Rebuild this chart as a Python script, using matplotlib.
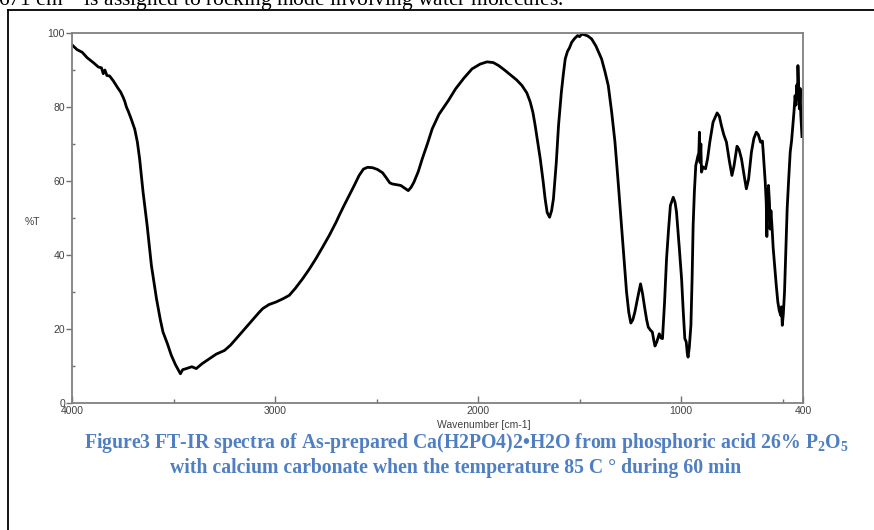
import matplotlib.pyplot as plt
from matplotlib.lines import Line2D
from matplotlib.ticker import FixedLocator

# FT-IR spectrum (wavenumber in cm-1, transmittance in %T)
wavenumber = [
    4000, 3975, 3950, 3925, 3895, 3870, 3855, 3846, 3838, 3828, 3815, 3797,
    3775, 3760, 3748, 3740, 3732, 3724, 3710, 3691, 3678, 3667, 3650, 3630,
    3609, 3584, 3565, 3552, 3530, 3511, 3490, 3466, 3455, 3437, 3410, 3388,
    3360, 3322, 3290, 3249, 3220, 3191, 3142, 3110, 3080, 3061, 3030, 2995,
    2960, 2930, 2900, 2864, 2830, 2799, 2765, 2733, 2700, 2684, 2660, 2635,
    2610, 2586, 2565, 2545, 2520, 2495, 2470, 2454, 2435, 2422, 2400, 2381,
    2360, 2344, 2330, 2316, 2295, 2275, 2250, 2226, 2193, 2147, 2111, 2070,
    2030, 1990, 1956, 1925, 1899, 1870, 1841, 1810, 1784, 1760, 1743, 1730,
    1719, 1705, 1694, 1680, 1670, 1660, 1648, 1638, 1629, 1615, 1604, 1590,
    1580, 1571, 1560, 1550, 1539, 1525, 1510, 1500, 1490, 1475, 1460, 1441,
    1420, 1392, 1375, 1359, 1342, 1326, 1310, 1294, 1280, 1269, 1258, 1248,
    1238, 1228, 1214, 1200, 1190, 1179, 1170, 1162, 1150, 1142, 1135, 1129,
    1120, 1108, 1100, 1092, 1082, 1072, 1062, 1053, 1039, 1030, 1023, 1010,
    998, 990, 982, 975, 970, 966, 960, 952, 946, 941, 935, 928,
    917, 913, 910, 907, 903, 900, 892, 880, 870, 859, 843, 823,
    812, 802, 790, 777, 763, 750, 740, 725, 715, 703, 690, 679,
    668, 654, 642, 630, 620, 609, 600, 597, 590, 586, 581, 578,
    576, 570, 565, 562, 558, 553, 547, 540, 532, 524, 517, 510,
    506, 502, 497, 491, 485, 478, 470, 463, 456, 450, 444, 439,
    435, 430, 427, 425, 421, 418, 414, 411, 408, 405,
]
transmittance = [
    96.8, 95.5, 94.8, 93.3, 92.0, 90.8, 90.6, 89.0, 90.0, 88.5, 88.4, 87.1,
    85.2, 84.0, 82.6, 81.5, 80.0, 79.0, 77.0, 74.0, 70.5, 66.0, 57.0, 48.0,
    37.2, 28.2, 22.5, 19.2, 16.0, 12.9, 10.3, 7.9, 9.0, 9.3, 9.8, 9.3,
    10.6, 12.0, 13.2, 14.2, 15.6, 17.4, 20.5, 22.5, 24.4, 25.5, 26.6, 27.3,
    28.2, 29.1, 31.0, 33.6, 36.3, 39.0, 42.2, 45.3, 48.8, 50.7, 53.4, 56.1,
    58.8, 61.5, 63.2, 63.7, 63.6, 63.1, 62.2, 61.0, 59.5, 59.2, 59.0, 58.8,
    58.0, 57.4, 58.3, 59.7, 62.5, 66.0, 70.0, 74.1, 78.0, 81.7, 84.9, 87.8,
    90.3, 91.6, 92.2, 92.0, 91.2, 90.0, 88.7, 87.3, 85.8, 83.8, 81.3, 78.5,
    75.0, 70.0, 66.0, 60.0, 55.2, 51.5, 50.2, 52.0, 55.2, 65.0, 75.0, 84.0,
    89.0, 93.0, 95.0, 96.0, 97.5, 98.5, 99.3, 99.0, 99.7, 99.5, 99.2, 98.4,
    96.5, 93.0, 89.5, 85.8, 78.5, 70.5, 59.5, 48.0, 38.0, 30.0, 24.5, 21.6,
    22.5, 24.6, 28.5, 32.2, 29.5, 25.5, 22.5, 20.5, 19.6, 19.2, 17.0, 15.4,
    16.5, 18.7, 17.6, 17.4, 27.0, 39.0, 47.0, 53.4, 55.6, 54.2, 51.6, 42.5,
    33.6, 25.0, 17.4, 16.5, 13.5, 12.4, 15.0, 21.0, 34.0, 48.0, 57.0, 64.2,
    66.9, 67.5, 73.2, 65.0, 70.0, 62.4, 63.8, 63.3, 66.0, 70.5, 75.9, 78.4,
    77.5, 75.0, 72.5, 70.5, 65.5, 61.5, 64.0, 69.4, 68.5, 66.0, 61.5, 57.9,
    60.5, 67.8, 71.5, 73.2, 72.5, 70.5, 70.8, 68.7, 63.0, 59.7, 54.0, 45.0,
    52.0, 58.8, 54.0, 47.0, 52.0, 48.0, 42.0, 37.2, 32.0, 27.3, 25.0, 23.7,
    26.0, 21.0, 24.0, 30.0, 40.0, 52.5, 61.0, 67.8, 71.0, 75.0, 79.0, 83.1,
    80.5, 86.0, 82.0, 91.2, 84.0, 79.5, 85.0, 78.0, 75.0, 72.0,
]

x_major = [4000, 3000, 2000, 1000, 400]
x_minor = [3500, 2500, 1500, 500]
y_major = [0, 20, 40, 60, 80, 100]
y_minor = [10, 30, 50, 70, 90]

caption_1 = "Figure3 FT-IR spectra of As-prepared Ca(H2PO4)2\u2022H2O from phosphoric acid 26% P$_2$O$_5$"
caption_2 = "with calcium carbonate when the temperature 85 C \u00b0 during 60 min"
body_text = r"671 cm$\mathregular{^{-1}}$ is assigned to rocking mode involving water molecules."

plt.rcParams["mathtext.fontset"] = "custom"
plt.rcParams["mathtext.rm"] = "Liberation Serif:bold"
plt.rcParams["mathtext.bf"] = "Liberation Serif:bold"

W, H = 874, 530
fig = plt.figure(figsize=(W / 100, H / 100), dpi=100)

def fx(px):
    return px / W

def fy(py):
    return 1 - py / H

# page frame around the figure block
fig.add_artist(Line2D([fx(8), 1.0], [fy(10), fy(10)], color="black", lw=1.3))
fig.add_artist(Line2D([fx(8), fx(8)], [fy(10), 0.0], color="black", lw=1.3))

ax = fig.add_axes([fx(72), fy(403), fx(803) - fx(72), fy(33) - fy(403)])
ax.plot(wavenumber, transmittance, color="black", lw=2.0, solid_joinstyle="round")
ax.set_xlim(4000, 400)
ax.set_ylim(0, 100)

tick_font = ["Liberation Sans Narrow", "Liberation Sans", "DejaVu Sans"]
ax.xaxis.set_major_locator(FixedLocator(x_major))
ax.xaxis.set_minor_locator(FixedLocator(x_minor))
ax.yaxis.set_major_locator(FixedLocator(y_major))
ax.yaxis.set_minor_locator(FixedLocator(y_minor))
ax.tick_params(axis="x", which="major", direction="in", length=5, width=1, color="#707070",
               labelsize=7.5, labelcolor="#404040", pad=2)
ax.tick_params(axis="x", which="minor", direction="in", length=3, width=1, color="#707070")
ax.tick_params(axis="y", which="major", direction="out", length=4, width=1, color="#707070",
               labelsize=7.5, labelcolor="#404040", pad=1)
ax.tick_params(axis="y", which="minor", direction="in", length=2.5, width=1, color="#707070")
for lab in ax.get_xticklabels() + ax.get_yticklabels():
    lab.set_family(tick_font)
for s in ax.spines.values():
    s.set_color("#808080")
    s.set_linewidth(1.3)

fig.text(fx(484), fy(425), "Wavenumber [cm-1]", ha="center", va="center",
         fontsize=7.5, color="#404040", family=tick_font)
fig.text(fx(32), fy(222), "%T", ha="center", va="center",
         fontsize=7.5, color="#404040", family=tick_font)

cap_color = "#4F7EC1"
fig.text(fx(466), fy(443), caption_1, ha="center", va="center", fontsize=14.2,
         fontweight="bold", color=cap_color, family="Liberation Serif")
fig.text(fx(456), fy(468), caption_2, ha="center", va="center", fontsize=14.2,
         fontweight="bold", color=cap_color, family="Liberation Serif")

fig.text(fx(-2), fy(6), body_text, ha="left", va="baseline", fontsize=15.5,
         color="black", family="Liberation Serif")

fig.savefig("out.png", dpi=100)
